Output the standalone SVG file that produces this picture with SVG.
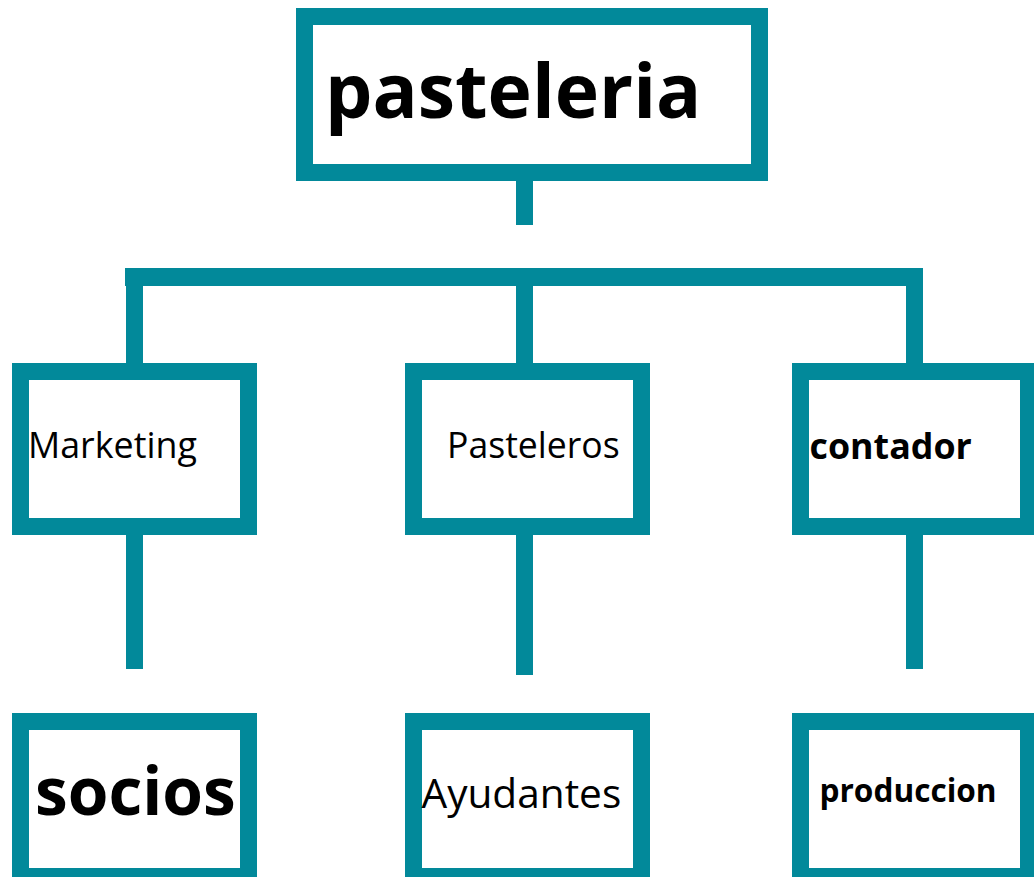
<svg xmlns="http://www.w3.org/2000/svg" width="1034" height="877" viewBox="0 0 1034 877">
<style>
.box{fill:#ffffff;stroke:#02899a;stroke-width:17}
.con{fill:#02899a}
text{font-family:"Open Sans","Liberation Sans",sans-serif;fill:#000}
.b{font-weight:bold}
</style>
<rect width="1034" height="877" fill="#ffffff"/>
<g id="connectors">
<rect class="con" x="516" y="178" width="17" height="47"/>
<rect class="con" x="125" y="268" width="798" height="18"/>
<rect class="con" x="126" y="268" width="17" height="97"/>
<rect class="con" x="516" y="268" width="17" height="97"/>
<rect class="con" x="906" y="268" width="17" height="97"/>
<rect class="con" x="126" y="533" width="17" height="136"/>
<rect class="con" x="516" y="533" width="17" height="142"/>
<rect class="con" x="906" y="533" width="17" height="136"/>
</g>
<g id="pasteleria">
<rect class="box" x="304.5" y="16.5" width="455" height="156"/>
<text class="b" x="325" y="118" font-size="75">pasteleria</text>
</g>
<g id="marketing">
<rect class="box" x="20.5" y="371.5" width="228" height="155"/>
<text x="28" y="458" font-size="35.8">Marketing</text>
</g>
<g id="pasteleros">
<rect class="box" x="413.5" y="371.5" width="228" height="155"/>
<text x="447" y="458" font-size="35.6">Pasteleros</text>
</g>
<g id="contador">
<rect class="box" x="800.5" y="371.5" width="228" height="155"/>
<text class="b" x="809.5" y="459" font-size="35.8">contador</text>
</g>
<g id="socios">
<rect class="box" x="20.5" y="721.5" width="228" height="155"/>
<text class="b" x="35" y="815" font-size="65.8">socios</text>
</g>
<g id="ayudantes">
<rect class="box" x="413.5" y="721.5" width="228" height="155"/>
<text x="421.5" y="808" font-size="40.6">Ayudantes</text>
</g>
<g id="produccion">
<rect class="box" x="800.5" y="721.5" width="228" height="155"/>
<text class="b" x="819.5" y="802" font-size="31.6">produccion</text>
</g>
</svg>
